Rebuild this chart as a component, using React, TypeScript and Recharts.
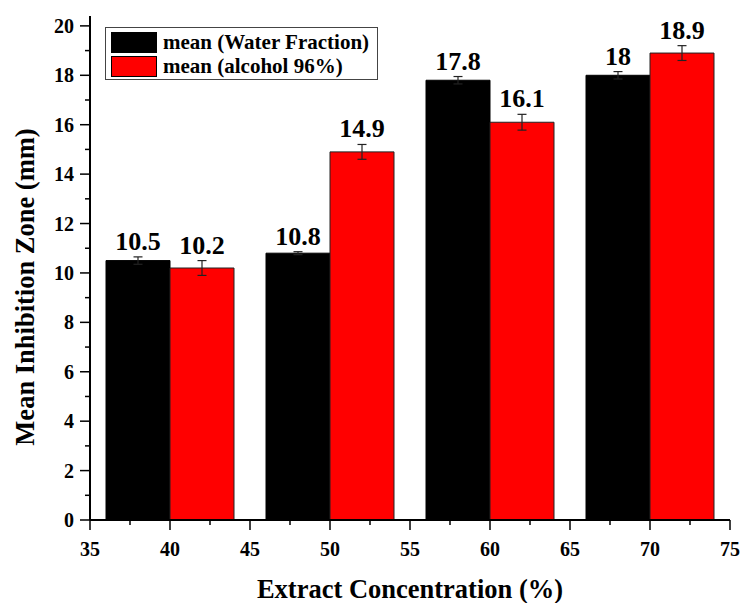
import { BarChart, Bar, XAxis, YAxis, ErrorBar, LabelList, Legend } from 'recharts';

const concentrations = [40, 50, 60, 70];
const waterMeans = [10.5, 10.8, 17.8, 18];
const waterErrors = [0.15, 0.06, 0.15, 0.15];
const alcoholMeans = [10.2, 14.9, 16.1, 18.9];
const alcoholErrors = [0.3, 0.3, 0.32, 0.3];

const xTicks = [35, 37.5, 40, 42.5, 45, 47.5, 50, 52.5, 55, 57.5, 60, 62.5, 65, 67.5, 70, 72.5, 75];
const yTicks = [0, 1, 2, 3, 4, 5, 6, 7, 8, 9, 10, 11, 12, 13, 14, 15, 16, 17, 18, 19, 20];

const data = concentrations.map((conc, i) => ({
  conc,
  water: waterMeans[i],
  waterErr: waterErrors[i],
  alcohol: alcoholMeans[i],
  alcoholErr: alcoholErrors[i],
}));

const FONT = "'Times New Roman', 'Liberation Serif', serif";

const XTick = (props: any) => {
  const { x, y, payload } = props;
  const major = payload.value % 5 === 0;
  return (
    <g>
      <line x1={x} y1={y} x2={x} y2={y + (major ? 10 : 5)} stroke="#000" strokeWidth={1.5} />
      {major && (
        <text x={x} y={y + 36} textAnchor="middle" fontFamily={FONT} fontWeight="bold" fontSize={20} fill="#000">
          {payload.value}
        </text>
      )}
    </g>
  );
};

const YTick = (props: any) => {
  const { x, y, payload } = props;
  const major = payload.value % 2 === 0;
  return (
    <g>
      <line x1={x} y1={y} x2={x - (major ? 10 : 5)} y2={y} stroke="#000" strokeWidth={1.5} />
      {major && (
        <text x={x - 16} y={y + 7} textAnchor="end" fontFamily={FONT} fontWeight="bold" fontSize={20} fill="#000">
          {payload.value}
        </text>
      )}
    </g>
  );
};

const YTitle = (props: any) => {
  const vb = props.viewBox;
  const cx = vb.x + 25;
  const cy = vb.y + vb.height / 2 + 19;
  return (
    <text
      transform={`translate(${cx}, ${cy}) rotate(-90)`}
      textAnchor="middle"
      dominantBaseline="central"
      fontFamily={FONT}
      fontWeight="bold"
      fontSize={26.5}
      fill="#000"
    >
      Mean Inhibition Zone (mm)
    </text>
  );
};

const makeValueLabel = (errors: number[]) => (props: any) => {
  const { x, y, width, height, value, index } = props;
  const pxPerUnit = height / value;
  const top = y - errors[index] * pxPerUnit;
  return (
    <text x={x + width / 2} y={top - 7} textAnchor="middle" fontFamily={FONT} fontWeight="bold" fontSize={26} fill="#000">
      {value}
    </text>
  );
};

const renderLegend = (props: any) => {
  const { payload } = props;
  return (
    <div
      style={{
        width: 273,
        height: 53,
        boxSizing: 'border-box',
        border: '1.5px solid #444',
        background: '#fff',
        padding: '2px 5px',
        fontFamily: FONT,
        fontWeight: 'bold',
        fontSize: 21,
        color: '#000',
      }}
    >
      {payload.map((entry: any) => (
        <div key={entry.value} style={{ display: 'flex', alignItems: 'center', height: 24 }}>
          <span
            style={{
              display: 'inline-block',
              width: 46,
              height: 21,
              boxSizing: 'border-box',
              background: entry.color,
              border: '1px solid #000',
              marginRight: 6,
            }}
          />
          <span>{entry.value}</span>
        </div>
      ))}
    </div>
  );
};

export default function App() {
  return (
    <div style={{ position: 'absolute', left: 0, top: 0, width: 744, height: 603, overflow: 'hidden', background: '#fff' }}>
      <BarChart
        width={744}
        height={603}
        data={data}
        margin={{ top: 16, right: 14, bottom: 0, left: 0 }}
        barCategoryGap="10%"
        barGap={0}
      >
        <XAxis
          dataKey="conc"
          type="number"
          domain={[35, 75]}
          ticks={xTicks}
          interval={0}
          tickLine={false}
          tickSize={0}
          tickMargin={0}
          tick={XTick}
          axisLine={{ stroke: '#000', strokeWidth: 2 }}
          height={83}
          label={{
            value: 'Extract Concentration (%)',
            position: 'insideBottom',
            offset: 5,
            style: { fontFamily: FONT, fontWeight: 'bold', fontSize: 26.5, fill: '#000' },
          }}
        />
        <XAxis
          xAxisId="frame"
          orientation="top"
          type="number"
          domain={[35, 75]}
          height={0}
          tick={false}
          tickLine={false}
          axisLine={{ stroke: '#000', strokeWidth: 1.5 }}
        />
        <YAxis
          type="number"
          domain={[0, 20.4]}
          ticks={yTicks}
          interval={0}
          tickLine={false}
          tickSize={0}
          tickMargin={0}
          tick={YTick}
          width={90}
          axisLine={{ stroke: '#000', strokeWidth: 2 }}
          label={<YTitle />}
        />
        <YAxis
          yAxisId="frame"
          orientation="right"
          type="number"
          domain={[0, 20.4]}
          width={0}
          tick={false}
          tickLine={false}
          axisLine={{ stroke: '#000', strokeWidth: 1.5 }}
        />
        <Legend
          content={renderLegend}
          verticalAlign="middle"
          align="center"
          wrapperStyle={{ left: 105, top: 27, width: 'auto' }}
        />
        <Bar dataKey="water" name="mean (Water Fraction)" fill="#000000" stroke="#000" strokeWidth={1} isAnimationActive={false}>
          <ErrorBar dataKey="waterErr" direction="y" width={4.5} stroke="#222" strokeWidth={1.2} />
          <LabelList dataKey="water" content={makeValueLabel(waterErrors)} />
        </Bar>
        <Bar dataKey="alcohol" name="mean (alcohol 96%)" fill="#ff0000" stroke="#222" strokeWidth={1} isAnimationActive={false}>
          <ErrorBar dataKey="alcoholErr" direction="y" width={4.5} stroke="#222" strokeWidth={1.2} />
          <LabelList dataKey="alcohol" content={makeValueLabel(alcoholErrors)} />
        </Bar>
      </BarChart>
    </div>
  );
}
